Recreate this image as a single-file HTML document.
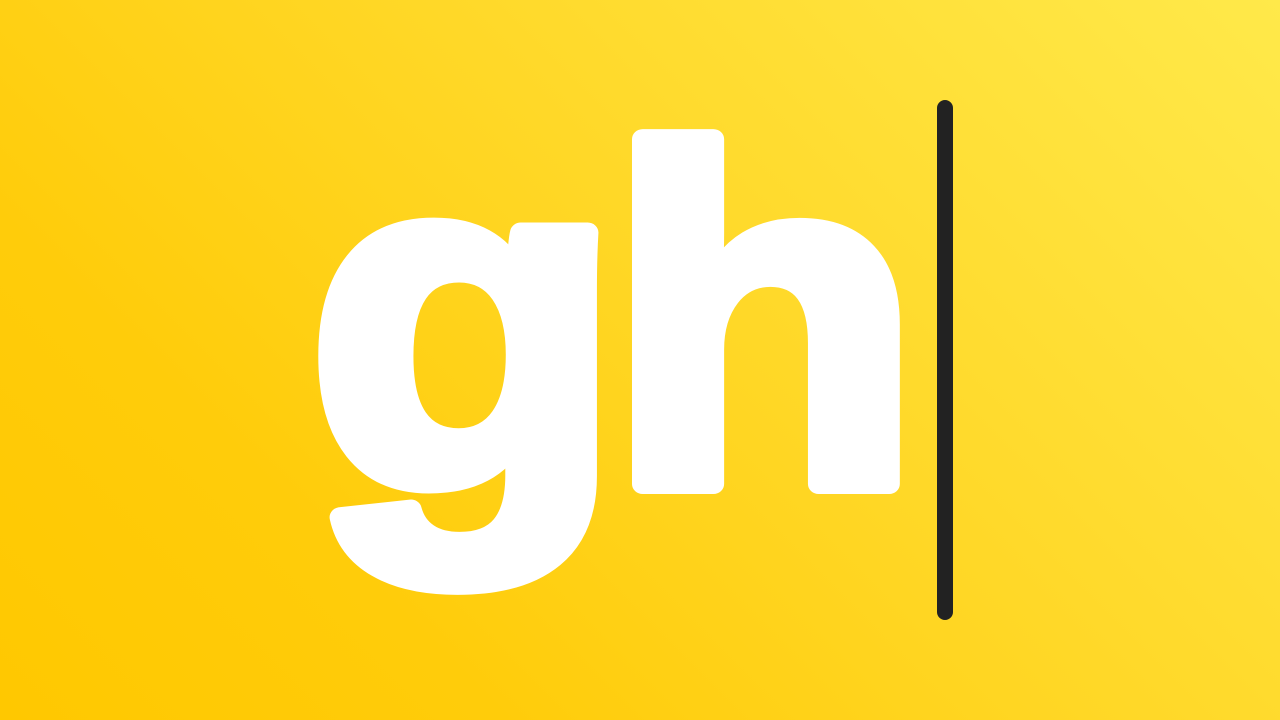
<!DOCTYPE html>
<html>
<head>
<meta charset="utf-8">
<style>
  html,body{margin:0;padding:0;width:1280px;height:720px;overflow:hidden;}
  body{background:linear-gradient(225deg,#ffe94a 0%,#ffd92a 40%,#ffcc0a 75%,#ffc800 100%);}
  svg{position:absolute;left:0;top:0;}
</style>
</head>
<body>
<svg width="1280" height="720" viewBox="0 0 1280 720">
  <g transform="translate(308,484) scale(1.08,1)">
    <text x="0" y="0" font-family="'Liberation Sans', sans-serif" font-weight="700" font-size="476" fill="#ffffff" stroke="#ffffff" stroke-width="20" stroke-linejoin="round" letter-spacing="-14">gh</text>
  </g>
  <rect x="937" y="100" width="16" height="520" rx="8" fill="#222222"/>
</svg>
</body>
</html>
